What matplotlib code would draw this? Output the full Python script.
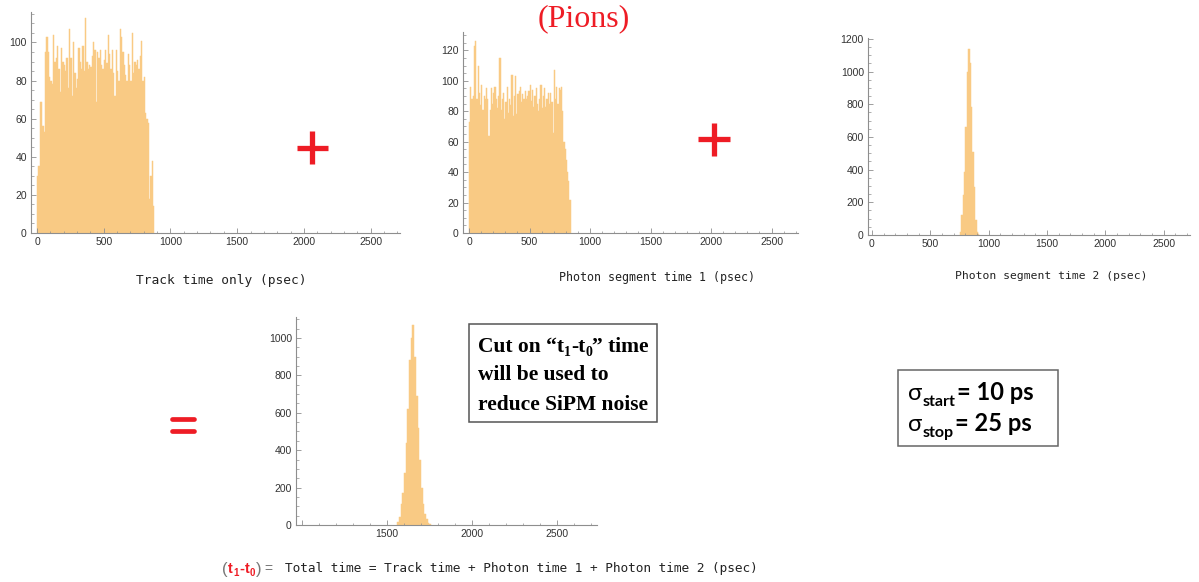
import numpy as np
import matplotlib as mpl
mpl.use('Agg')
import matplotlib.pyplot as plt
from matplotlib.lines import Line2D
from matplotlib.patches import Rectangle
from matplotlib.ticker import MultipleLocator, FixedLocator

mpl.rcParams['font.family'] = 'Liberation Sans'

# histogram contents (bin start, bin width in psec, counts per bin)
track_start, track_bin = 0, 10
track_counts = [30, 35, 69, 69, 56, 53, 95, 103, 95, 82,
                80, 78, 104, 90, 92, 98, 86, 74, 97, 90,
                88, 85, 92, 76, 107, 92, 72, 100, 84, 76,
                81, 97, 90, 86, 98, 85, 113, 90, 86, 88,
                87, 93, 100, 96, 69, 95, 92, 96, 88, 86,
                91, 96, 89, 104, 94, 86, 96, 84, 72, 96,
                85, 80, 107, 103, 95, 88, 83, 80, 94, 88,
                80, 105, 84, 90, 88, 91, 86, 93, 101, 80,
                82, 63, 60, 58, 18, 30, 38, 14]

photon1_start, photon1_bin = 0, 10
photon1_counts = [73, 96, 88, 90, 123, 126, 88, 110, 92, 84,
                  97, 81, 90, 88, 95, 88, 64, 81, 95, 85,
                  92, 96, 88, 82, 90, 115, 81, 88, 92, 75,
                  86, 96, 79, 88, 84, 104, 77, 90, 103, 78,
                  91, 93, 96, 86, 91, 88, 93, 88, 90, 93,
                  97, 87, 94, 83, 90, 95, 85, 80, 88, 97,
                  82, 90, 95, 83, 88, 92, 85, 92, 86, 66,
                  107, 88, 96, 85, 95, 94, 96, 80, 60, 55,
                  48, 40, 34, 22]

photon2_start, photon2_bin = 754, 12
photon2_counts = [20, 122, 244, 386, 661, 997, 1139, 1050, 783, 508, 295, 90, 20, 5]

total_start, total_bin = 1560, 10
total_counts = [15, 45, 110, 170, 280, 440, 620, 880, 1000, 1070,
                900, 690, 520, 350, 200, 110, 60, 30, 12, 4]

W, H = 1199, 582
RED = '#ee1c25'
BAR = '#f9ca84'
AXC = '#8e8e8e'

fig = plt.figure(figsize=(W / 100, H / 100), dpi=100)


def fx(x):
    return x / W


def fy(y):
    return 1 - y / H


def add_hist(rect, start, width, counts, xlim, ylim, ymaj, ymin):
    l, t, r, b = rect
    ax = fig.add_axes([fx(l), fy(b), (r - l) / W, (b - t) / H])
    edges = start + width * np.arange(len(counts))
    ax.bar(edges, counts, width=width, align='edge', color=BAR,
           edgecolor=BAR, linewidth=0.35)
    ax.set_xlim(*xlim)
    ax.set_ylim(*ylim)
    for s in ['top', 'right']:
        ax.spines[s].set_visible(False)
    for s in ['left', 'bottom']:
        ax.spines[s].set_color(AXC)
        ax.spines[s].set_linewidth(0.8)
    ax.xaxis.set_major_locator(MultipleLocator(500))
    ax.xaxis.set_minor_locator(MultipleLocator(100))
    ax.yaxis.set_major_locator(MultipleLocator(ymaj))
    ax.yaxis.set_minor_locator(MultipleLocator(ymin))
    ax.tick_params(which='both', direction='in', color=AXC, labelsize=7.5,
                   labelcolor='#333333', pad=3)
    ax.tick_params(which='major', length=3.5, width=0.6)
    ax.tick_params(which='minor', length=1.8, width=0.5)
    ax.patch.set_alpha(0)
    return ax


ax1 = add_hist((31, 12, 400, 233), track_start, track_bin, track_counts,
               (-45, 2720), (0, 116), 20, 5)
ax2 = add_hist((463, 32, 798, 233), photon1_start, photon1_bin, photon1_counts,
               (-50, 2719), (0, 132), 20, 5)
ax3 = add_hist((868, 38, 1190, 235), photon2_start, photon2_bin, photon2_counts,
               (-34, 2727), (0, 1205), 200, 50)
ax4 = add_hist((296, 317, 597, 525), total_start, total_bin, total_counts,
               (965, 2735), (0, 1112), 200, 50)
ax4.xaxis.set_major_locator(FixedLocator([1000, 1500, 2000, 2500]))
ax4.set_xticklabels(['', '1500', '2000', '2500'])

# axis captions
mono = dict(family='DejaVu Sans Mono', color='#222222', ha='center', va='center')
fig.text(fx(221), fy(280), 'Track time only (psec)', fontsize=9.3, **mono)
fig.text(fx(657), fy(277), 'Photon segment time 1 (psec)', fontsize=8.4, **mono)
fig.text(fx(1051), fy(276), 'Photon segment time 2 (psec)', fontsize=8.2, **mono)
fig.text(fx(285), fy(572), 'Total time = Track time + Photon time 1 + Photon time 2 (psec)',
         fontsize=9.2, family='DejaVu Sans Mono', color='#222222', ha='left', va='baseline')

fig.text(fx(584), fy(26), '(Pions)', fontsize=23, family='Liberation Serif',
         color=RED, ha='center', va='baseline')

renderer = fig.canvas.get_renderer()


def runs(x, y, parts):
    # left-to-right text pieces: (text, size, color, weight, family, dy, gap)
    for s, size, color, weight, family, dy, gap in parts:
        t = fig.text(fx(x), fy(y + dy), s, fontsize=size, color=color,
                     fontweight=weight, family=family, ha='left', va='baseline')
        x += t.get_window_extent(renderer).width + gap


# (t1-t0) =
lab = 'Liberation Sans'
runs(222, 573, [
    ('(', 12, '#777777', 'normal', lab, 1, 0.5),
    ('t', 10.5, RED, 'bold', lab, 0, 0.3),
    ('1', 7, RED, 'bold', lab, 3, 0.8),
    ('-', 10.5, RED, 'bold', lab, 0, 0.3),
    ('t', 10.5, RED, 'bold', lab, 0, 0.3),
    ('0', 7, RED, 'bold', lab, 3, 0.8),
    (')', 12, '#777777', 'normal', lab, 1, 3),
    ('=', 10, '#777777', 'normal', lab, 0, 0),
])

# red operators between the panels
def bar(x0, y0, x1, y1, lw, cap):
    fig.add_artist(Line2D([fx(x0), fx(x1)], [fy(y0), fy(y1)], transform=fig.transFigure,
                          color=RED, lw=lw, solid_capstyle=cap))

bar(297, 148, 328, 148, 3.8, 'butt')
bar(312, 131, 312, 164, 3.8, 'butt')
bar(698, 139, 730, 139, 3.8, 'butt')
bar(714, 123, 714, 156, 3.8, 'butt')
bar(172, 419, 194, 419, 3.4, 'round')
bar(172, 431, 194, 431, 3.4, 'round')

# note boxes
fig.add_artist(Rectangle((fx(469), fy(422)), (657 - 469) / W, (422 - 324) / H,
                         transform=fig.transFigure, fill=False, edgecolor='#555555', lw=1.1))
serif = 'Liberation Serif'
runs(478, 352, [
    ('Cut on \u201ct', 15.5, 'black', 'bold', serif, 0, 0),
    ('1', 10, 'black', 'bold', serif, 4, 0),
    ('-t', 15.5, 'black', 'bold', serif, 0, 0),
    ('0', 10, 'black', 'bold', serif, 4, 0),
    ('\u201d time', 15.5, 'black', 'bold', serif, 0, 0),
])
fig.text(fx(478), fy(380), 'will be used to', fontsize=15.5, fontweight='bold',
         family=serif, ha='left', va='baseline')
fig.text(fx(478), fy(410), 'reduce SiPM noise', fontsize=15.5, fontweight='bold',
         family=serif, ha='left', va='baseline')

fig.add_artist(Rectangle((fx(898), fy(446)), (1058 - 898) / W, (446 - 370) / H,
                         transform=fig.transFigure, fill=False, edgecolor='#666666', lw=1.1))
sans = ['Lato', 'DejaVu Sans']
runs(908, 400, [
    ('\u03c3', 17, 'black', 'normal', sans, 0, 0),
    ('start', 11.5, 'black', 'bold', sans, 6, 2),
    ('= 10 ps', 17, 'black', 'bold', sans, 0, 0),
])
runs(908, 431, [
    ('\u03c3', 17, 'black', 'normal', sans, 0, 0),
    ('stop', 11.5, 'black', 'bold', sans, 6, 2),
    ('= 25 ps', 17, 'black', 'bold', sans, 0, 0),
])

fig.savefig('out.png', dpi=100)
